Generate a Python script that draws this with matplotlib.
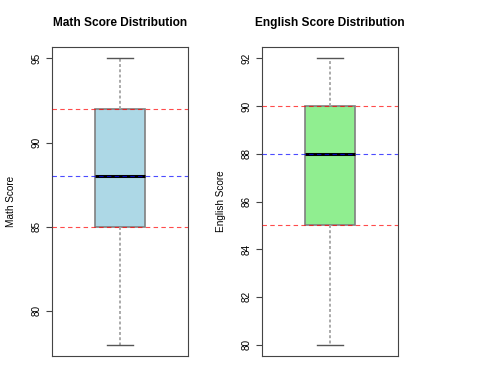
import matplotlib.pyplot as plt

plt.rcParams['font.family'] = ['Liberation Sans', 'DejaVu Sans']

# five-number summaries
titles = ["Math Score Distribution", "English Score Distribution"]
ylabels = ["Math Score", "English Score"]
mins = [78, 80]
q1s = [85, 85]
medians = [88, 88]
q3s = [92, 90]
maxs = [95, 92]
yticks = [[80, 85, 90, 95], [80, 82, 84, 86, 88, 90, 92]]
fills = ["#ADD8E6", "#90EE90"]

W, H = 489, 381
fig = plt.figure(figsize=(W / 100, H / 100), dpi=100)

lefts = [52, 262]
for i in range(2):
    ax = fig.add_axes([lefts[i] / W, (H - 356) / H, 136 / W, 309 / H])
    stats = [dict(whislo=mins[i], q1=q1s[i], med=medians[i], q3=q3s[i], whishi=maxs[i], fliers=[])]
    ax.bxp(stats, positions=[1], widths=0.4, patch_artist=True, showfliers=False,
           boxprops=dict(facecolor=fills[i], edgecolor="#808080", linewidth=1.2),
           medianprops=dict(color="black", linewidth=2.2),
           whiskerprops=dict(color="#AAAAAA", linewidth=1.4, linestyle=(0, (1.5, 1.2))),
           capprops=dict(color="#555555", linewidth=1.0))
    # reference lines at quartiles and median
    for v, c in [(q1s[i], "red"), (q3s[i], "red"), (medians[i], "blue")]:
        ax.axhline(v, color=c, alpha=0.7, linewidth=0.8, linestyle=(0, (4, 3)), zorder=3)

    rng = maxs[i] - mins[i]
    ax.set_ylim(mins[i] - 0.04 * rng, maxs[i] + 0.04 * rng)
    ax.set_xlim(0.46, 1.54)
    ax.set_xticks([])
    ax.set_yticks(yticks[i])
    ax.set_yticklabels([str(t) for t in yticks[i]], rotation=90, va="center")
    ax.tick_params(axis="y", length=4, width=0.8, color="#444444", labelsize=7.2, pad=3.5)
    for s in ax.spines.values():
        s.set_color("#444444")
        s.set_linewidth(0.8)

    ax.text(0.5, 1 + (47 - 23) / 309, titles[i], transform=ax.transAxes,
            ha="center", va="center", fontsize=8.6, fontweight="bold")
    ax.text(-41 / 136, 0.5, ylabels[i], transform=ax.transAxes, rotation=90,
            ha="center", va="center", fontsize=7.2)

fig.savefig("out.png", dpi=100)
